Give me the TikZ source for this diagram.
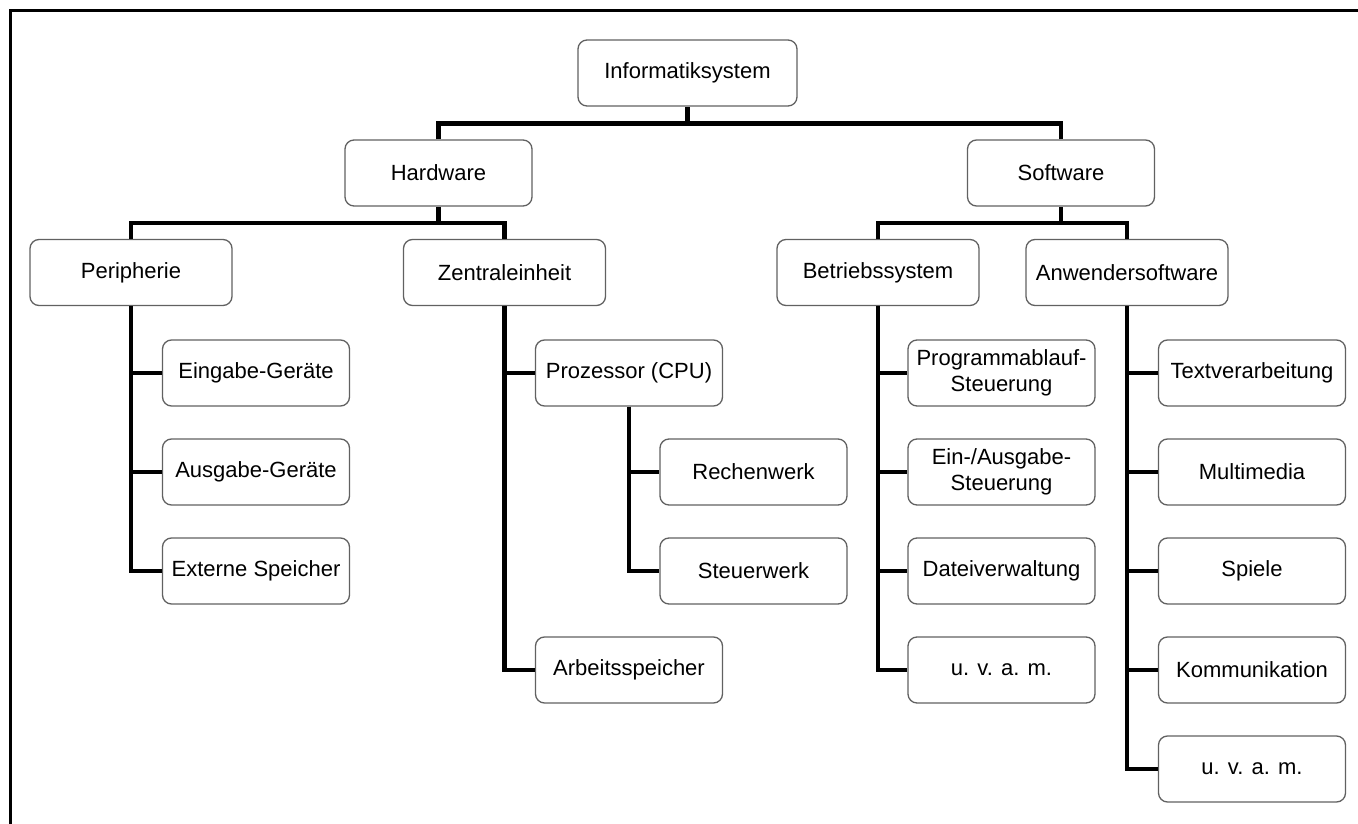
\documentclass[tikz,border=0pt]{standalone}
\usepackage{fontspec}
\setmainfont{Liberation Sans}
\begin{document}
\begin{tikzpicture}[x=1pt,y=-1pt,
  box/.style={draw=black!62, line width=1.3pt, rounded corners=9pt, fill=white,
    minimum height=66pt, inner sep=0pt, align=center,
    font=\fontsize{22}{26}\selectfont},
  w186/.style={minimum width=187pt},
  w202/.style={minimum width=202pt},
  conn/.style={line width=4.5pt, line join=miter, black}]
\useasboundingbox (0,0) rectangle (1358,824);
\draw[line width=3pt] (10.5,824) -- (10.5,11) -- (1358,11);

% level 0
\node[box, minimum width=219pt] (inf) at (687.5,73) {Informatiksystem};
% level 1
\node[box, w186] (hw) at (438.5,173) {Hardware};
\node[box, w186] (sw) at (1061,173) {Software};
% level 2
\node[box, w202] (per) at (131,272.5) {Peripherie};
\node[box, w202] (zen) at (504.5,272.5) {Zentraleinheit};
\node[box, w202] (bet) at (878,272.5) {Betriebssystem};
\node[box, w202] (anw) at (1127,272.5) {Anwendersoftware};
% Peripherie children
\node[box, w186] (ein) at (256,373) {Eingabe-Geräte};
\node[box, w186] (aus) at (256,472) {Ausgabe-Geräte};
\node[box, w186] (ext) at (256,571) {Externe Speicher};
% Zentraleinheit children
\node[box, w186] (pro) at (629,373) {Prozessor (CPU)};
\node[box, w186] (rec) at (753.5,472) {Rechenwerk};
\node[box, w186] (ste) at (753.5,571) {Steuerwerk};
\node[box, w186] (arb) at (629,670) {Arbeitsspeicher};
% Betriebssystem children
\node[box, w186] (prog) at (1001.5,373) {Programmablauf-\\Steuerung};
\node[box, w186] (eaus) at (1001.5,472) {Ein-/Ausgabe-\\Steuerung};
\node[box, w186] (dat) at (1001.5,571) {Dateiverwaltung};
\node[box, w186] (uv1) at (1001.5,670) {u. v. a. m.};
% Anwendersoftware children
\node[box, w186] (txt) at (1252,373) {Textverarbeitung};
\node[box, w186] (mm) at (1252,472) {Multimedia};
\node[box, w186] (sp) at (1252,571) {Spiele};
\node[box, w186] (kom) at (1252,670) {Kommunikation};
\node[box, w186] (uv2) at (1252,769) {u. v. a. m.};

% tree connectors
\draw[conn] (hw.north) -- ++(0,-16) -| (inf.south);
\draw[conn] (sw.north) -- ++(0,-16) -| (inf.south);
\draw[conn] (per.north) -- ++(0,-16) -| (hw.south);
\draw[conn] (zen.north) -- ++(0,-16) -| (hw.south);
\draw[conn] (bet.north) -- ++(0,-16) -| (sw.south);
\draw[conn] (anw.north) -- ++(0,-16) -| (sw.south);
% side connectors
\foreach \c in {ein,aus,ext} \draw[conn] (per.south) |- (\c.west);
\foreach \c in {pro,arb} \draw[conn] (zen.south) |- (\c.west);
\foreach \c in {rec,ste} \draw[conn] (pro.south) |- (\c.west);
\foreach \c in {prog,eaus,dat,uv1} \draw[conn] (bet.south) |- (\c.west);
\foreach \c in {txt,mm,sp,kom,uv2} \draw[conn] (anw.south) |- (\c.west);
\end{tikzpicture}
\end{document}
